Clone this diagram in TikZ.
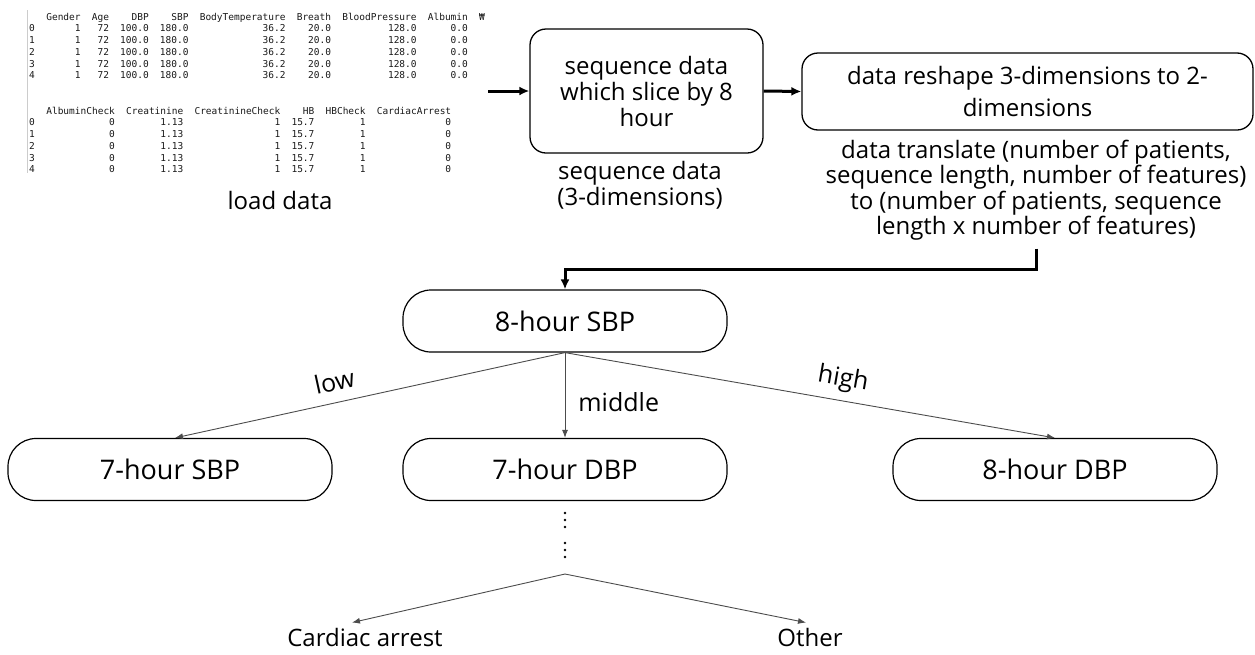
\documentclass[tikz,border=0pt]{standalone}
\usepackage{fontspec}
\setmainfont{Open Sans}
\setmonofont{DejaVu Sans Mono}
\usetikzlibrary{arrows.meta,matrix}

\begin{document}
\begin{tikzpicture}
    [
    x=1pt,y=-1pt,
    procbox/.style={draw,line width=1.3pt,rounded corners=16pt,align=center,font=\fontsize{24}{26}\selectfont},
    treebox/.style={draw,line width=1.2pt,rounded corners=28pt,minimum width=324,minimum height=62,font=\fontsize{27}{30}\selectfont},
    note/.style={align=center,inner sep=0pt,font=\fontsize{24}{26}\selectfont},
    leaf/.style={inner sep=5pt,font=\fontsize{24}{28}\selectfont},
    branchlabel/.style={inner sep=0pt,font=\fontsize{25}{28}\selectfont},
    bigarrow/.style={line width=3pt,-{Latex[length=10pt,width=9pt]}},
    branch/.style={draw=black!70,line width=0.9pt,-{Latex[length=8pt,width=6pt]}},
    tablemat/.style={matrix of nodes,column sep=11.2pt,row sep=2.7pt,inner sep=0pt,
      nodes={inner sep=0pt,anchor=base east,text height=7pt,text depth=2pt,text=black!90,
        font=\ttfamily\fontsize{9.5}{11}\selectfont}}
    ]
    \useasboundingbox (0,0) rectangle (1255,654);
    % loaded table
    \draw [black!20,line width=0.8pt] (27,10) -- (27,173);
    \matrix (toptab) at (29,13) [tablemat,anchor=north west] {
      & Gender & Age & DBP & SBP & BodyTemperature & Breath & BloodPressure & Albumin & ₩ \\
      0 & 1 & 72 & 100.0 & 180.0 & 36.2 & 20.0 & 128.0 & 0.0 & \\
      1 & 1 & 72 & 100.0 & 180.0 & 36.2 & 20.0 & 128.0 & 0.0 & \\
      2 & 1 & 72 & 100.0 & 180.0 & 36.2 & 20.0 & 128.0 & 0.0 & \\
      3 & 1 & 72 & 100.0 & 180.0 & 36.2 & 20.0 & 128.0 & 0.0 & \\
      4 & 1 & 72 & 100.0 & 180.0 & 36.2 & 20.0 & 128.0 & 0.0 & \\
    };
    \matrix (bottab) at (29,107) [tablemat,anchor=north west] {
      & AlbuminCheck & Creatinine & CreatinineCheck & HB & HBCheck & CardiacArrest \\
      0 & 0 & 1.13 & 1 & 15.7 & 1 & 0 \\
      1 & 0 & 1.13 & 1 & 15.7 & 1 & 0 \\
      2 & 0 & 1.13 & 1 & 15.7 & 1 & 0 \\
      3 & 0 & 1.13 & 1 & 15.7 & 1 & 0 \\
      4 & 0 & 1.13 & 1 & 15.7 & 1 & 0 \\
    };
    \node (loadtxt) at (280,200) [note] {load data};
    \coordinate (tabout) at (488,91);
    % preprocessing
    \node (seqbox) at (646.5,91) [procbox,minimum width=233,minimum height=124] {sequence data\\which slice by 8\\hour};
    \node (seqtxt) at (640,185) [note] {sequence data\\(3-dimensions)};
    \node (reshapebox) at (1027.5,91.5) [procbox,minimum width=451,minimum height=77,font=\fontsize{24}{32}\selectfont] {data reshape 3-dimensions to 2-\\dimensions};
    \node (transtxt) at (1036,190) [note,font=\fontsize{24}{25.5}\selectfont] {data translate (number of patients,\\sequence length, number of features)\\to (number of patients, sequence\\length x number of features)};
    \draw [bigarrow] (tabout) to (seqbox.west);
    \draw [bigarrow] (seqbox.east) to (reshapebox.west);
    % decision tree
    \node (sbp8) at (565,321) [treebox] {8-hour SBP};
    \node (sbp7) at (170,469.5) [treebox] {7-hour SBP};
    \node (dbp7) at (565,469.5) [treebox] {7-hour DBP};
    \node (dbp8) at (1055,469.5) [treebox] {8-hour DBP};
    \draw [bigarrow] (transtxt.south) ++(0,8) -- ++(0,21) -| (sbp8.north);
    \draw [branch] (sbp8.south) to node [pos=0.58,above=11pt,sloped,branchlabel] {low} ([xshift=5pt]sbp7.north);
    \draw [branch] (sbp8.south) to node [pos=0.58,right=13pt,branchlabel] {middle} (dbp7.north);
    \draw [branch] (sbp8.south) to node [pos=0.56,above=8pt,sloped,branchlabel] {high} (dbp8.north);
    \foreach \y in {513,520,527,543,550,557}
      \fill (565,\y) circle (1.4);
    \coordinate (split) at (565,574);
    \node (cardiac) at (365,637) [leaf] {Cardiac arrest};
    \node (other) at (810,637) [leaf] {Other};
    \draw [branch] (split) to ([xshift=-13pt]cardiac.north);
    \draw [branch] (split) to ([xshift=-4pt]other.north);
  \end{tikzpicture}
\end{document}
